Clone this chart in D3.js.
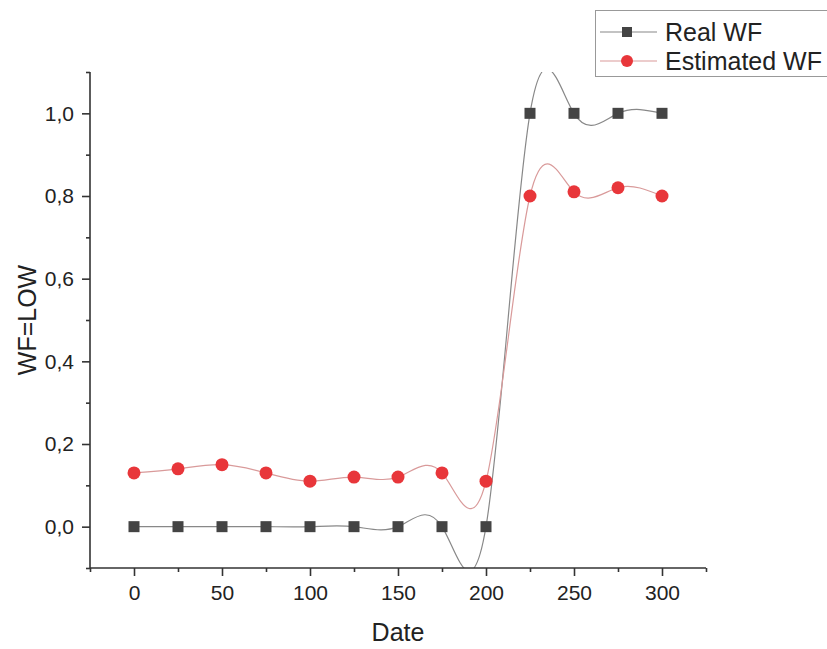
<!DOCTYPE html>
<html><head><meta charset="utf-8">
<script src="https://cdn.jsdelivr.net/npm/d3@7/dist/d3.min.js"></script>
<style>body{margin:0;background:#fff}svg{display:block}</style>
</head><body>
<script>
const dates = [0,25,50,75,100,125,150,175,200,225,250,275,300];
const realWF = [0,0,0,0,0,0,0,0,0,1,1,1,1];
const estimatedWF = [0.13,0.14,0.15,0.13,0.11,0.12,0.12,0.13,0.11,0.80,0.81,0.82,0.80];
const xMajorTicks = [0,50,100,150,200,250,300];
const xMinorTicks = [-25,25,75,125,175,225,275,325];
const yMajorTicks = [0,0.2,0.4,0.6,0.8,1.0];
const yMinorTicks = [-0.1,0.1,0.3,0.5,0.7,0.9,1.1];
const seriesNames = ["Real WF","Estimated WF"];

const W=827,H=649;
const FONT="Liberation Sans, Arial, sans-serif";
const svg=d3.select("body").append("svg").attr("width",W).attr("height",H);
const x=d3.scaleLinear().domain([-25,325]).range([90,706]);
const y=d3.scaleLinear().domain([-0.1,1.1]).range([568,72]);
const axisColor="#333";
const fmt=v=>d3.format(".1f")(v).replace(".",",");

svg.append("clipPath").attr("id","clip").append("rect")
  .attr("x",x(-25)).attr("y",y(1.1)).attr("width",x(325)-x(-25)).attr("height",y(-0.1)-y(1.1));

const line=(vals)=>d3.line().x((d,i)=>x(dates[i])).y(d=>y(d)).curve(d3.curveNatural)(vals);

const g=svg.append("g").attr("clip-path","url(#clip)");
g.append("path").attr("d",line(realWF)).attr("fill","none").attr("stroke","#888").attr("stroke-width",1.2);
g.append("path").attr("d",line(estimatedWF)).attr("fill","none").attr("stroke","#d99a9a").attr("stroke-width",1.2);

// markers
svg.append("g").selectAll("rect").data(realWF).join("rect")
  .attr("x",(d,i)=>x(dates[i])-5.5).attr("y",d=>y(d)-5.5).attr("width",11).attr("height",11)
  .attr("fill","#444");
svg.append("g").selectAll("circle").data(estimatedWF).join("circle")
  .attr("cx",(d,i)=>x(dates[i])).attr("cy",d=>y(d)).attr("r",6.5)
  .attr("fill","#e8363a");

// axes
const xAxis=svg.append("g").attr("transform",`translate(0,${y(-0.1)})`);
xAxis.call(d3.axisBottom(x).tickValues(xMajorTicks).tickSize(8).tickPadding(9).tickFormat(d3.format("d")));
const xMinor=svg.append("g").attr("transform",`translate(0,${y(-0.1)})`);
xMinor.call(d3.axisBottom(x).tickValues(xMinorTicks).tickSize(4).tickFormat(""));
const yAxis=svg.append("g").attr("transform",`translate(${x(-25)},0)`);
yAxis.call(d3.axisLeft(y).tickValues(yMajorTicks).tickSize(8).tickPadding(8).tickFormat(fmt));
const yMinor=svg.append("g").attr("transform",`translate(${x(-25)},0)`);
yMinor.call(d3.axisLeft(y).tickValues(yMinorTicks).tickSize(4).tickFormat(""));
[xAxis,xMinor,yAxis,yMinor].forEach(a=>{
  a.selectAll(".domain").attr("stroke",axisColor).attr("stroke-width",1.6);
  a.selectAll(".tick line").attr("stroke",axisColor).attr("stroke-width",1.6);
  a.selectAll("text").attr("fill","#222").style("font-family",FONT).style("font-size","21px");
});
xAxis.select(".domain").attr("d",`M${x(-25)},0H${x(325)}`);
yAxis.select(".domain").attr("d",`M0,${y(1.1)}V${y(-0.1)}`);
xMinor.select(".domain").remove();yMinor.select(".domain").remove();

// axis titles
svg.append("text").attr("x",(x(-25)+x(325))/2).attr("y",641).attr("text-anchor","middle")
  .style("font-family",FONT).style("font-size","25px").attr("fill","#222").text("Date");
svg.append("text").attr("transform",`translate(36,${(y(1.1)+y(-0.1))/2}) rotate(-90)`).attr("text-anchor","middle")
  .style("font-family",FONT).style("font-size","25px").attr("fill","#222").text("WF=LOW");

// legend
const lg=svg.append("g");
lg.append("rect").attr("x",595.5).attr("y",10.5).attr("width",240).attr("height",66)
  .attr("fill","#fff").attr("stroke","#999").attr("stroke-width",1);
const lcol=[["#888","#444","rect"],["#d99a9a","#e8363a","circle"]];
seriesNames.forEach((n,i)=>{
  const cy=32+i*29;
  lg.append("line").attr("x1",600).attr("x2",657).attr("y1",cy).attr("y2",cy).attr("stroke",lcol[i][0]).attr("stroke-width",1.2);
  if(lcol[i][2]==="rect") lg.append("rect").attr("x",627-5).attr("y",cy-5).attr("width",10).attr("height",10).attr("fill",lcol[i][1]);
  else lg.append("circle").attr("cx",627).attr("cy",cy).attr("r",6).attr("fill",lcol[i][1]);
  lg.append("text").attr("x",665).attr("y",cy+9).style("font-family",FONT)
    .style("font-size","25px").attr("fill","#222").text(n);
});
</script>
</body></html>
